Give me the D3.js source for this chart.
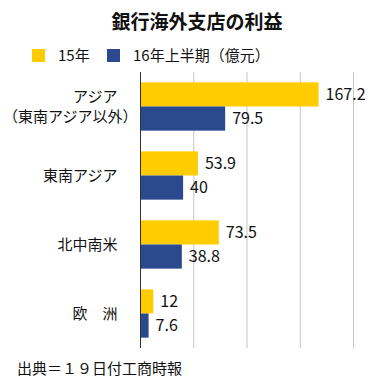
<!DOCTYPE html>
<html>
<head>
<meta charset="utf-8">
<script src="https://cdn.jsdelivr.net/npm/d3@7"></script>
<style>
  body { margin: 0; background: #fff; }
  svg text { font-family: "Noto Sans CJK JP", "Noto Sans", sans-serif; fill: #111; }
</style>
</head>
<body>
<svg id="chart" width="379" height="384"></svg>
<script>
const categories = ["アジア\n（東南アジア以外）", "東南アジア", "北中南米", "欧　洲"];
const series15 = [167.2, 53.9, 73.5, 12];
const series16h1 = [79.5, 40, 38.8, 7.6];
const seriesNames = ["15年", "16年上半期（億元）"];
const xTicks = [0, 50, 100, 150, 200];

const colors = ["#ffcc00", "#2b4a8e"];
const svg = d3.select("#chart");

const margin = { top: 72, left: 140.5, right: 25.5, bottom: 36 };
const width = 379 - margin.left - margin.right,
  height = 384 - margin.top - margin.bottom;

const x = d3.scaleLinear().domain([0, 200]).range([0, width]);
const y = d3.scaleBand().domain(categories).range([0, height])
  .paddingInner(0.3).paddingOuter(0.15);

// title
svg.append("text")
  .attr("x", 197).attr("y", 29)
  .attr("text-anchor", "middle")
  .style("font-size", "19px").style("font-weight", "bold")
  .text("銀行海外支店の利益");

// legend
const legendX = [32, 107];
seriesNames.forEach((name, i) => {
  svg.append("rect")
    .attr("x", legendX[i]).attr("y", 49)
    .attr("width", 13).attr("height", 13)
    .attr("fill", colors[i]);
  svg.append("text")
    .attr("x", legendX[i] + 26).attr("y", 61)
    .style("font-size", "15px")
    .text(name);
});

const g = svg.append("g")
  .attr("transform", "translate(" + margin.left + "," + margin.top + ")");

// grid
g.selectAll(".grid")
  .data(xTicks.slice(1))
  .join("line")
  .attr("class", "grid")
  .attr("x1", d => x(d)).attr("x2", d => x(d))
  .attr("y1", 0).attr("y2", height)
  .attr("stroke", "#c4c4c4").attr("stroke-width", 1);

const rows = categories.map((c, i) => ({ cat: c, vals: [series15[i], series16h1[i]] }));
const barH = y.bandwidth() / 2;

const grp = g.selectAll(".grp")
  .data(rows)
  .join("g")
  .attr("transform", d => "translate(0," + y(d.cat) + ")");

grp.selectAll("rect")
  .data(d => d.vals)
  .join("rect")
  .attr("x", 0)
  .attr("y", (d, i) => i * barH)
  .attr("width", d => x(d))
  .attr("height", barH)
  .attr("fill", (d, i) => colors[i]);

grp.selectAll(".val")
  .data(d => d.vals)
  .join("text")
  .attr("class", "val")
  .attr("x", d => x(d) + 7)
  .attr("y", (d, i) => i * barH + barH / 2)
  .attr("dy", "0.36em")
  .style("font-size", "16px")
  .text(d => d);

// category labels
grp.each(function (d) {
  const lines = d.cat.split("\n");
  const t = d3.select(this).append("text")
    .attr("text-anchor", "end")
    .style("font-size", "15px");
  if (lines.length === 1) {
    t.append("tspan").attr("x", -23).attr("y", y.bandwidth() / 2).attr("dy", "0.36em").text(lines[0]);
  } else {
    t.append("tspan").attr("x", -23).attr("y", y.bandwidth() / 2 - 10).attr("dy", "0.36em").text(lines[0]);
    t.append("tspan").attr("x", -3).attr("y", y.bandwidth() / 2 + 10).attr("dy", "0.36em").text(lines[1]);
  }
});

// axis line
g.append("line")
  .attr("x1", 0).attr("x2", 0)
  .attr("y1", 0).attr("y2", height)
  .attr("stroke", "#333").attr("stroke-width", 1);

// source
svg.append("text")
  .attr("x", 17).attr("y", 374)
  .style("font-size", "15px")
  .text("出典＝１９日付工商時報");
</script>
</body>
</html>
